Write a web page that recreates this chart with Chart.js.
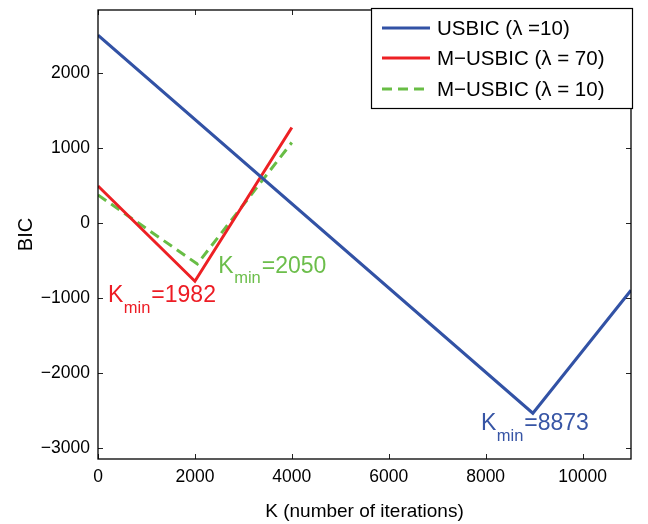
<!DOCTYPE html>
<html>
<head>
<meta charset="utf-8">
<script src="https://cdn.jsdelivr.net/npm/chart.js@4"></script>
<style>
    html, body { margin: 0; padding: 0; background: #fff; }
    #wrap { width: 648px; height: 524px; }
</style>
</head>
<body>
<div id="wrap"><canvas id="bic-chart"></canvas></div>
<script>
// values
const kUsbic = [0, 8975, 11000];
const bicUsbic = [2500, -2540, -900];
const kM70 = [0, 2000, 4000];
const bicM70 = [490, -780, 1270];
const kM10 = [0, 2050, 4000];
const bicM10 = [370, -550, 1070];

const xTicks = [0, 2000, 4000, 6000, 8000, 10000];
const yTicks = [-3000, -2000, -1000, 0, 1000, 2000];

const seriesLabels = ['USBIC (λ =10)', 'M\u2212USBIC (λ = 70)', 'M\u2212USBIC (λ = 10)'];
const minLabels = ['=8873', '=1982', '=2050'];

const COLORS = {
    blue: 'rgb(50, 82, 165)',
    red: 'rgb(237, 32, 36)',
    green: 'rgb(104, 189, 69)',
};
const FONT = '"Liberation Sans", Arial, sans-serif';

const toPoints = (xs, ys) => xs.map((x, i) => ({ x: x, y: ys[i] }));
const fmt = v => (v < 0 ? '\u2212' + Math.abs(v) : String(v));

// box + inward ticks on all four sides, like the matlab axes
const boxPlugin = {
    id: 'box',
    afterDraw(chart) {
        const { ctx, chartArea: a, scales } = chart;
        const tl = 5;
        ctx.save();
        ctx.strokeStyle = '#222';
        ctx.lineWidth = 1;
        xTicks.forEach(v => {
            const px = Math.round(scales.x.getPixelForValue(v)) + 0.5;
            ctx.beginPath();
            ctx.moveTo(px, a.bottom); ctx.lineTo(px, a.bottom - tl);
            ctx.moveTo(px, a.top); ctx.lineTo(px, a.top + tl);
            ctx.stroke();
        });
        yTicks.forEach(v => {
            const py = Math.round(scales.y.getPixelForValue(v)) + 0.5;
            ctx.beginPath();
            ctx.moveTo(a.left, py); ctx.lineTo(a.left + tl, py);
            ctx.moveTo(a.right, py); ctx.lineTo(a.right - tl, py);
            ctx.stroke();
        });
        ctx.lineWidth = 1.3;
        ctx.strokeStyle = '#000';
        ctx.strokeRect(a.left, a.top, a.right - a.left, a.bottom - a.top);
        ctx.restore();
    }
};

// K_min annotations next to each minimum
const minPlugin = {
    id: 'kmin',
    afterDatasetsDraw(chart) {
        const { ctx, scales } = chart;
        const notes = [
            { ds: 0, color: 'rgb(55, 85, 165)', dx: -52, dy: 17 },
            { ds: 1, color: 'rgb(237, 28, 36)', dx: -87, dy: 21 },
            { ds: 2, color: 'rgb(108, 190, 75)', dx: 21, dy: 9 },
        ];
        ctx.save();
        ctx.textBaseline = 'alphabetic';
        ctx.textAlign = 'left';
        notes.forEach(n => {
            const pts = chart.data.datasets[n.ds].data;
            const low = pts.reduce((m, p) => (p.y < m.y ? p : m), pts[0]);
            let x = scales.x.getPixelForValue(low.x) + n.dx;
            const y = scales.y.getPixelForValue(low.y) + n.dy;
            ctx.fillStyle = n.color;
            ctx.font = '23px ' + FONT;
            ctx.fillText('K', x, y);
            x += ctx.measureText('K').width + 0.5;
            ctx.font = '16.5px ' + FONT;
            ctx.fillText('min', x, y + 10.5);
            x += ctx.measureText('min').width + 1;
            ctx.font = '23px ' + FONT;
            ctx.fillText(minLabels[n.ds], x, y);
        });
        ctx.restore();
    }
};

// legend drawn as a boxed panel in the upper right corner
const legendPlugin = {
    id: 'boxLegend',
    afterDraw(chart) {
        const { ctx } = chart;
        const bx = 371, by = 8, bw = 261, bh = 100;
        const rows = [28, 58, 89];
        ctx.save();
        ctx.fillStyle = '#fff';
        ctx.fillRect(bx, by, bw, bh);
        ctx.strokeStyle = '#000';
        ctx.lineWidth = 1.2;
        ctx.strokeRect(bx + 0.5, by + 0.5, bw, bh);
        chart.data.datasets.forEach((ds, i) => {
            ctx.beginPath();
            ctx.strokeStyle = ds.borderColor;
            ctx.lineWidth = 3;
            ctx.setLineDash(ds.borderDash || []);
            ctx.moveTo(382, rows[i]);
            ctx.lineTo(430, rows[i]);
            ctx.stroke();
            ctx.setLineDash([]);
            ctx.fillStyle = '#000';
            ctx.font = '20.5px ' + FONT;
            ctx.textBaseline = 'middle';
            ctx.fillText(ds.label, 437, rows[i] + 1);
        });
        ctx.restore();
    }
};

const BicChart = {
    chart: null,

    mount() {
        const ctx = document.getElementById('bic-chart').getContext('2d');
        this.chart = new Chart(ctx, {
            type: 'line',
            data: {
                datasets: [
                    {
                        label: seriesLabels[0],
                        data: toPoints(kUsbic, bicUsbic),
                        borderColor: COLORS.blue,
                        borderWidth: 3,
                    },
                    {
                        label: seriesLabels[1],
                        data: toPoints(kM70, bicM70),
                        borderColor: COLORS.red,
                        borderWidth: 3,
                    },
                    {
                        label: seriesLabels[2],
                        data: toPoints(kM10, bicM10),
                        borderColor: COLORS.green,
                        borderWidth: 3,
                        borderDash: [10, 6],
                    },
                ]
            },
            options: {
                responsive: true,
                maintainAspectRatio: false,
                animation: false,
                elements: {
                    point: { radius: 0 },
                    line: { tension: 0, borderCapStyle: 'butt' },
                },
                layout: {
                    padding: { top: 10, right: 17, left: 0, bottom: 0 }
                },
                plugins: {
                    legend: { display: false },
                    tooltip: { enabled: false },
                },
                scales: {
                    x: {
                        type: 'linear',
                        min: 0,
                        max: 11000,
                        grid: { display: false, drawTicks: false },
                        border: { display: false },
                        afterBuildTicks: s => { s.ticks = xTicks.map(v => ({ value: v })); },
                        afterFit: s => {
                            s.height = 65;
                            s.paddingLeft = 0;
                            s.paddingRight = 0;
                        },
                        ticks: {
                            padding: 8,
                            color: '#000',
                            maxRotation: 0,
                            font: { family: FONT, size: 17.5 },
                            callback: v => fmt(v),
                        },
                        title: {
                            display: true,
                            text: 'K (number of iterations)',
                            color: '#000',
                            font: { family: FONT, size: 19 },
                            padding: { top: 0, bottom: 1 },
                        }
                    },
                    y: {
                        min: -3150,
                        max: 2836,
                        grid: { display: false, drawTicks: false },
                        border: { display: false },
                        afterBuildTicks: s => { s.ticks = yTicks.map(v => ({ value: v })); },
                        afterFit: s => {
                            s.width = 98;
                            s.paddingTop = 0;
                            s.paddingBottom = 0;
                        },
                        ticks: {
                            padding: 8,
                            color: '#000',
                            font: { family: FONT, size: 17.5 },
                            callback: v => fmt(v),
                        },
                        title: {
                            display: true,
                            text: 'BIC',
                            color: '#000',
                            font: { family: FONT, size: 20 },
                            padding: { top: 14, bottom: 0 },
                        }
                    }
                }
            },
            plugins: [boxPlugin, minPlugin, legendPlugin]
        });
    },
};

BicChart.mount();
</script>
</body>
</html>
